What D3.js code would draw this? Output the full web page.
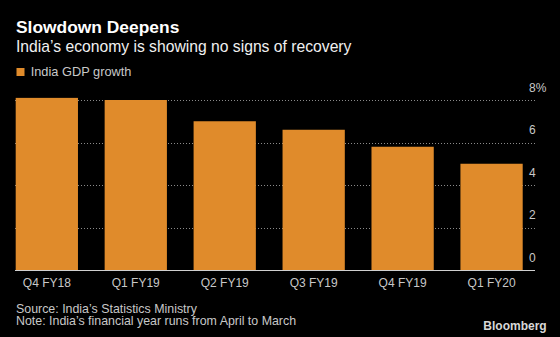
<!DOCTYPE html>
<html>
<head>
<meta charset="utf-8">
<script src="https://cdn.jsdelivr.net/npm/d3@7"></script>
<style>
  body { margin: 0; background: #000; }
  svg { display: block; }
  text { font-family: 'Liberation Sans', Arial, sans-serif; }
</style>
</head>
<body>
<div id="chart"></div>
<script>
// India GDP growth, quarterly, %
let quarters = ['Q4 FY18', 'Q1 FY19', 'Q2 FY19', 'Q3 FY19', 'Q4 FY19', 'Q1 FY20']
let gdpGrowth = [8.1, 8.0, 7.0, 6.6, 5.8, 5.0]
let yTicks = [0, 2, 4, 6, 8]

let width = 560, height = 337
let barColor = '#e08b2b'
let labelColor = '#c8c8c8'

let svg = d3.select('#chart').append('svg')
    .attr('width', width)
    .attr('height', height)

svg.append('rect').attr('width', width).attr('height', height).attr('fill', '#000')

let x = d3.scaleBand().domain(quarters).range([15.7, 522.7]).paddingInner(0.3).paddingOuter(0)
let y = d3.scaleLinear().domain([0, 8]).range([270, 100])

// gridlines (behind bars)
svg.append('g').selectAll('line')
    .data(yTicks.filter(d => d > 0))
    .enter().append('line')
    .attr('x1', 15).attr('x2', 535)
    .attr('y1', d => Math.round(y(d)) + 0.5).attr('y2', d => Math.round(y(d)) + 0.5)
    .attr('stroke', '#8a8a8a')
    .attr('stroke-width', 1)
    .attr('stroke-dasharray', '1,2')

// bars
svg.append('g').selectAll('rect')
    .data(quarters)
    .enter().append('rect')
    .attr('x', d => x(d))
    .attr('width', x.bandwidth())
    .attr('y', (d, i) => y(gdpGrowth[i]))
    .attr('height', (d, i) => y(0) - y(gdpGrowth[i]))
    .attr('fill', barColor)

// baseline
svg.append('line')
    .attr('x1', 15).attr('x2', 535)
    .attr('y1', y(0) + 0.5).attr('y2', y(0) + 0.5)
    .attr('stroke', '#d0d0d0').attr('stroke-width', 1)

// y tick labels, sitting above each line
svg.append('g').selectAll('text')
    .data(yTicks)
    .enter().append('text')
    .attr('x', 529)
    .attr('y', d => y(d) - 8.5)
    .text(d => d === 8 ? d + '%' : d)
    .style('fill', labelColor)
    .style('font-size', '12px')

// x labels
svg.append('g').selectAll('text')
    .data(quarters)
    .enter().append('text')
    .attr('x', d => x(d) + x.bandwidth() / 2)
    .attr('y', 286.6)
    .attr('text-anchor', 'middle')
    .text(d => d)
    .style('fill', labelColor)
    .style('font-size', '12px')

// title + subtitle
svg.append('text').attr('x', 16).attr('y', 33.3)
    .text('Slowdown Deepens')
    .style('fill', '#fff').style('font-size', '17.4px').style('font-weight', 'bold')
svg.append('text').attr('x', 16).attr('y', 51.7)
    .text('India’s economy is showing no signs of recovery')
    .style('fill', '#f0f0f0').style('font-size', '15.7px')

// legend
svg.append('rect').attr('x', 16.5).attr('y', 68).attr('width', 8).attr('height', 8).attr('fill', barColor)
svg.append('text').attr('x', 30.7).attr('y', 76.2)
    .text('India GDP growth')
    .style('fill', labelColor).style('font-size', '12.8px')

// footer
svg.append('text').attr('x', 16).attr('y', 312.5)
    .text('Source: India’s Statistics Ministry')
    .style('fill', labelColor).style('font-size', '12.4px')
svg.append('text').attr('x', 16).attr('y', 325.3)
    .text('Note: India’s financial year runs from April to March')
    .style('fill', labelColor).style('font-size', '12.4px')
svg.append('text').attr('x', 546.7).attr('y', 329.5)
    .attr('text-anchor', 'end')
    .text('Bloomberg')
    .style('fill', '#d8d8d8').style('font-size', '12px').style('font-weight', 'bold')
</script>
</body>
</html>
